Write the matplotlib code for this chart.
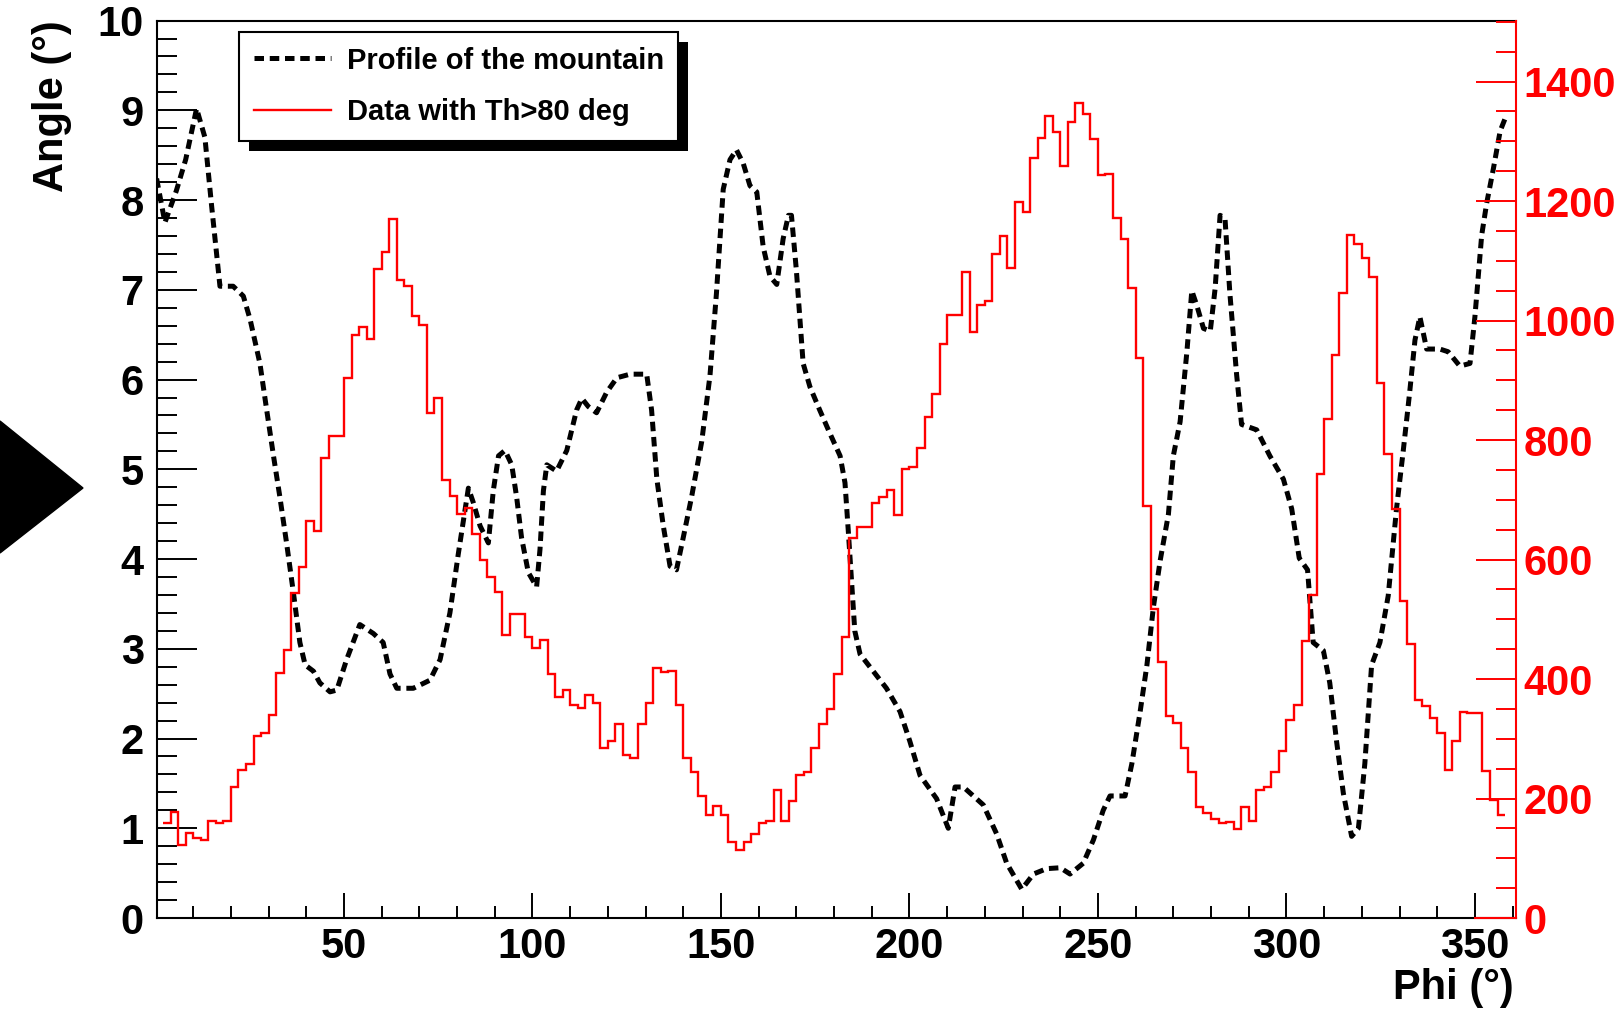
import numpy as np
import matplotlib
matplotlib.use('Agg')
import matplotlib.pyplot as plt
from matplotlib.patches import Polygon, Rectangle
from matplotlib.lines import Line2D
from matplotlib.ticker import MultipleLocator
from matplotlib.transforms import IdentityTransform

plt.rcParams['font.family'] = ['Liberation Sans', 'DejaVu Sans']
plt.rcParams['font.weight'] = 'bold'
plt.rcParams['axes.labelweight'] = 'bold'

# profile of the mountain: phi (deg) vs elevation angle (deg)
prof_phi = [0.3, 2.5, 5.5, 8.0, 10.9, 13.1, 14.9, 17.1, 20.6, 23.3, 25.1, 27.7,
            29.5, 31.3, 33.0, 34.8, 36.6, 38.3, 39.7, 41.9, 43.6, 46.3, 48.1,
            50.7, 54.2, 57.8, 60.4, 62.2, 64.0, 68.4, 72.8, 75.5, 78.1, 80.3,
            81.7, 83.0, 84.3, 86.1, 88.3, 89.6, 91.0, 92.7, 94.5, 95.8, 97.1,
            98.9, 101.1, 102.0, 102.9, 103.8, 106.4, 109.1, 111.7, 113.1, 114.8,
            117.0, 119.7, 122.4, 125.9, 130.3, 131.6, 133.0, 134.7, 136.5, 138.2,
            140.0, 142.2, 144.9, 147.1, 148.8, 150.6, 152.4, 154.1, 155.9, 157.7,
            159.5, 161.2, 163.0, 164.8, 166.5, 167.9, 168.7, 170.0, 171.8, 173.6,
            176.2, 178.9, 181.6, 182.9, 183.8, 184.7, 185.5, 186.9, 190.4, 193.9,
            197.5, 200.1, 202.8, 207.2, 210.3, 212.1, 214.3, 219.6, 223.1, 225.8,
            229.8, 232.9, 236.4, 240.0, 242.6, 246.1, 248.8, 251.4, 253.2, 257.2,
            259.0, 261.2, 263.0, 264.7, 266.5, 268.7, 270.0, 271.8, 273.6, 274.9,
            276.2, 278.0, 279.8, 281.1, 282.4, 283.7, 285.0, 286.8, 288.1, 292.1,
            295.6, 299.2, 301.4, 303.4, 305.6, 307.1, 309.8, 311.5, 313.3, 315.1,
            317.3, 319.1, 320.8, 322.6, 324.8, 327.0, 329.2, 331.0, 332.7, 334.1,
            335.4, 337.2, 340.7, 342.9, 346.0, 348.7, 350.0, 351.8, 353.1, 354.9,
            356.7, 358.4]
prof_ang = [8.24, 7.75, 8.10, 8.45, 9.02, 8.70, 7.93, 7.04, 7.04, 6.93, 6.67, 6.18,
            5.66, 5.15, 4.69, 4.17, 3.62, 3.07, 2.82, 2.75, 2.62, 2.52, 2.54,
            2.88, 3.27, 3.17, 3.07, 2.72, 2.56, 2.56, 2.65, 2.88, 3.40, 4.05,
            4.43, 4.79, 4.63, 4.37, 4.18, 4.76, 5.15, 5.21, 5.05, 4.69, 4.24,
            3.85, 3.69, 4.11, 4.76, 5.05, 4.98, 5.21, 5.66, 5.79, 5.70,
            5.63, 5.86, 6.02, 6.06, 6.06, 5.66, 4.89, 4.37, 3.92, 3.88,
            4.24, 4.69, 5.31, 6.05, 6.96, 8.12, 8.45, 8.56, 8.41, 8.16,
            8.09, 7.48, 7.15, 7.06, 7.57, 7.83, 7.83, 7.22, 6.18, 5.92,
            5.66, 5.40, 5.15, 4.85, 4.30, 3.72, 3.20, 2.94, 2.75, 2.56,
            2.30, 1.97, 1.59, 1.33, 1.00, 1.46, 1.46, 1.26, 0.94, 0.61,
            0.32, 0.49, 0.55, 0.56, 0.49, 0.61, 0.87, 1.20, 1.36, 1.36,
            1.72, 2.30, 2.82, 3.46, 3.98, 4.50, 5.15, 5.53, 6.31, 6.99,
            6.83, 6.57, 6.54, 7.02, 7.83, 7.80, 6.96, 6.05, 5.50, 5.44,
            5.15, 4.89, 4.56, 4.01, 3.88, 3.07, 2.98, 2.62, 1.97, 1.39,
            0.91, 1.00, 1.72, 2.82, 3.07, 3.59, 4.56, 5.21, 5.86, 6.44,
            6.70, 6.34, 6.34, 6.31, 6.15, 6.18, 6.70, 7.61, 7.96, 8.35,
            8.77, 8.95]

# events with Th>80 deg, 2 deg bins from 2 to 358
hist_edges = np.arange(2, 360, 2)
hist_counts = [159, 178, 122, 142, 134, 130, 163, 159, 163, 219, 248, 258, 305, 309,
               340, 410, 449, 544, 588, 664, 648, 770, 806, 806, 903, 976, 989, 969,
               1087, 1114, 1170, 1068, 1058, 1007, 993, 845, 870, 733, 706, 677, 687,
               643, 600, 570, 546, 473, 508, 508, 470, 452, 465, 408, 370, 381, 357,
               352, 374, 360, 285, 297, 324, 273, 268, 324, 360, 418, 411, 413, 357,
               268, 244, 205, 173, 188, 173, 127, 113, 127, 140, 159, 163, 214, 163,
               195, 239, 244, 285, 324, 350, 408, 470, 636, 654, 654, 695, 704, 716,
               675, 751, 755, 787, 838, 877, 961, 1010, 1010, 1081, 981, 1026, 1032,
               1112, 1141, 1088, 1199, 1182, 1272, 1306, 1343, 1315, 1259, 1332, 1364,
               1345, 1303, 1243, 1246, 1172, 1136, 1054, 937, 690, 518, 428, 338, 326,
               285, 244, 185, 176, 166, 159, 161, 149, 185, 163, 214, 219, 244, 279,
               331, 357, 464, 541, 743, 835, 942, 1046, 1143, 1128, 1104, 1073, 896,
               777, 685, 530, 459, 365, 355, 334, 309, 248, 297, 345, 343, 343, 246,
               198, 173]

W, H = 1619, 1016
fig = plt.figure(figsize=(W / 100, H / 100), dpi=100)
ax = fig.add_axes([157 / W, 1 - 918 / H, (1516 - 157) / W, (918 - 20.6) / H])
ax2 = ax.twinx()

ax.plot(prof_phi, prof_ang, color='black', lw=3.6, dashes=(1.9, 1.15),
        dash_capstyle='butt')
ax2.stairs(hist_counts, hist_edges, baseline=None, color='red', lw=1.7)

ax.set_xlim(0.4, 360.9)
ax.set_ylim(0, 10)
ax2.set_ylim(0, 1502)

ax.xaxis.set_major_locator(MultipleLocator(50))
ax.xaxis.set_minor_locator(MultipleLocator(10))
ax.yaxis.set_major_locator(MultipleLocator(1))
ax.yaxis.set_minor_locator(MultipleLocator(0.2))
ax2.yaxis.set_major_locator(MultipleLocator(200))
ax2.yaxis.set_minor_locator(MultipleLocator(50))

ax.tick_params(axis='y', which='major', direction='in', length=28.8, width=1.4,
               labelsize=30, pad=9.5, right=False)
ax.tick_params(axis='y', which='minor', direction='in', length=14.4, width=1.4,
               right=False)
ax.tick_params(axis='x', which='major', direction='in', length=18, width=1.4,
               labelsize=30, pad=6.5, top=False)
ax.tick_params(axis='x', which='minor', direction='in', length=9, width=1.4,
               top=False)
ax2.tick_params(axis='y', which='major', direction='in', length=28.8, width=1.4,
                labelsize=30, pad=5.5, colors='red')
ax2.tick_params(axis='y', which='minor', direction='in', length=14.4, width=1.4,
                colors='red')

for s in ax.spines.values():
    s.set_linewidth(1.5)
ax.spines['right'].set_visible(False)
for k in ['left', 'top', 'bottom']:
    ax2.spines[k].set_visible(False)
ax2.spines['right'].set_color('red')
ax2.spines['right'].set_linewidth(1.5)
ax2.plot([350, 360.9], [0, 0], color='red', lw=1.5, clip_on=False)

ax.set_ylabel('Angle (°)', fontsize=30, fontweight='bold', loc='top')
ax.yaxis.set_label_coords(-0.0625, 1.0)
ax.set_xlabel('Phi (°)', fontsize=30, fontweight='bold', loc='right')
ax.xaxis.set_label_coords(0.9985, -0.056)

handles = [Line2D([], [], color='black', lw=3.6, dashes=(1.9, 1.15), dash_capstyle='butt'),
           Line2D([], [], color='red', lw=1.7)]
leg = ax2.legend(handles, ['Profile of the mountain', 'Data with Th>80 deg'],
                 loc='upper left', bbox_to_anchor=((239 - 157) / 1359, (918 - 32) / 897.4),
                 borderaxespad=0, fontsize=21, handlelength=2.64, handletextpad=0.55,
                 borderpad=0.5, labelspacing=0.8, fancybox=False, framealpha=1,
                 edgecolor='black')
leg.get_frame().set_linewidth(1.5)
leg.set_zorder(10)

fig.canvas.draw()
bb = leg.get_window_extent()
shadow = Rectangle((bb.x0 + 10, bb.y0 - 10), bb.width, bb.height,
                   transform=IdentityTransform(), facecolor='black',
                   edgecolor='none', zorder=9)
ax2.add_artist(shadow)

fig.add_artist(Polygon([[0, 1 - 421 / H], [83 / W, 1 - 488 / H], [0, 1 - 553 / H]],
                       closed=True, transform=fig.transFigure, color='black'))

fig.savefig('out.png', dpi=100)
